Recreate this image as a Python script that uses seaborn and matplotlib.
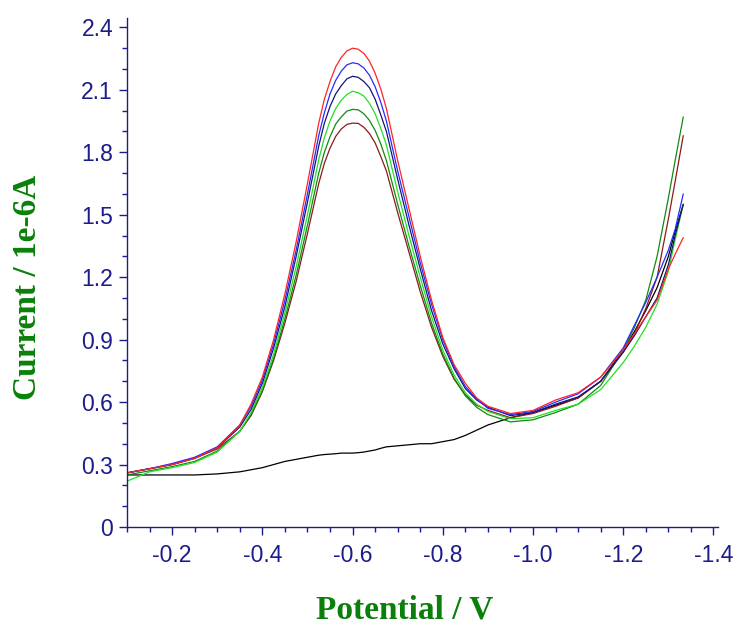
import numpy as np
import pandas as pd
import seaborn as sns
import matplotlib.pyplot as plt
from matplotlib.ticker import MultipleLocator

# potenziale (V) - griglia comune a tutte le curve
potential = [-0.10, -0.15, -0.20, -0.25, -0.30, -0.35, -0.375, -0.40, -0.425, -0.45, -0.475, -0.50,
             -0.525, -0.5375, -0.55, -0.5625, -0.575, -0.5875, -0.60, -0.6125, -0.625,
             -0.6375, -0.65, -0.6625, -0.675,
             -0.70, -0.725, -0.75, -0.775, -0.80,
             -0.825, -0.85, -0.875, -0.90, -0.95, -1.00, -1.05, -1.10, -1.15, -1.20,
             -1.225, -1.25, -1.275, -1.30, -1.315, -1.333]

# correnti (1e-6 A)
red = [0.26, 0.28, 0.30, 0.33, 0.38, 0.49, 0.59, 0.72, 0.90, 1.12, 1.37, 1.65,
       1.94, 2.055, 2.14, 2.21, 2.256, 2.287, 2.30, 2.295, 2.275, 2.238, 2.18, 2.104, 2.01,
       1.76, 1.53, 1.30, 1.09, 0.91,
       0.78, 0.69, 0.62, 0.58, 0.545, 0.56, 0.61, 0.645, 0.72, 0.85,
       0.93, 1.01, 1.09, 1.24, 1.31, 1.39]
blue = [0.26, 0.28, 0.305, 0.335, 0.385, 0.49, 0.58, 0.705, 0.88, 1.09, 1.33, 1.60,
        1.88, 1.99, 2.08, 2.145, 2.19, 2.22, 2.23, 2.225, 2.205, 2.17, 2.115, 2.04, 1.95,
        1.71, 1.49, 1.27, 1.07, 0.90,
        0.77, 0.675, 0.615, 0.57, 0.54, 0.555, 0.60, 0.64, 0.72, 0.86,
        0.97, 1.08, 1.20, 1.33, 1.43, 1.60]
navy = [0.26, 0.28, 0.30, 0.33, 0.38, 0.48, 0.565, 0.69, 0.86, 1.06, 1.30, 1.56,
        1.83, 1.94, 2.02, 2.08, 2.12, 2.153, 2.165, 2.16, 2.14, 2.11, 2.055, 1.98, 1.90,
        1.67, 1.45, 1.24, 1.04, 0.88,
        0.76, 0.665, 0.61, 0.575, 0.535, 0.55, 0.59, 0.625, 0.70, 0.84,
        0.92, 1.01, 1.10, 1.26, 1.40, 1.55]
green = [0.22, 0.265, 0.285, 0.31, 0.36, 0.46, 0.55, 0.67, 0.83, 1.03, 1.25, 1.50,
         1.765, 1.87, 1.95, 2.01, 2.05, 2.078, 2.093, 2.086, 2.07, 2.035, 1.985, 1.915, 1.835,
         1.61, 1.40, 1.20, 1.01, 0.85,
         0.73, 0.645, 0.59, 0.555, 0.52, 0.525, 0.56, 0.59, 0.66, 0.79,
         0.87, 0.96, 1.07, 1.23, 1.38, 1.55]
darkgreen = [0.25, 0.27, 0.29, 0.315, 0.365, 0.46, 0.54, 0.655, 0.81, 1.00, 1.21, 1.45,
             1.70, 1.80, 1.875, 1.935, 1.97, 1.998, 2.006, 2.004, 1.985, 1.953, 1.905, 1.84, 1.76,
             1.55, 1.35, 1.16, 0.98, 0.83,
             0.715, 0.63, 0.575, 0.54, 0.505, 0.515, 0.55, 0.59, 0.68, 0.85,
             0.96, 1.09, 1.30, 1.58, 1.76, 1.97]
darkred = [0.26, 0.28, 0.30, 0.33, 0.375, 0.46, 0.535, 0.65, 0.80, 0.98, 1.18, 1.41,
           1.65, 1.747, 1.82, 1.876, 1.912, 1.934, 1.94, 1.939, 1.92, 1.89, 1.845, 1.78, 1.71,
           1.51, 1.32, 1.13, 0.96, 0.82,
           0.71, 0.635, 0.585, 0.56, 0.525, 0.545, 0.58, 0.62, 0.70, 0.84,
           0.93, 1.05, 1.20, 1.48, 1.66, 1.88]
blank = [0.25, 0.25, 0.25, 0.25, 0.255, 0.265, 0.275, 0.285, 0.30, 0.315, 0.325, 0.335,
         0.345, 0.348, 0.35, 0.352, 0.355, 0.355, 0.355, 0.357, 0.36, 0.365, 0.37, 0.378, 0.385,
         0.39, 0.395, 0.40, 0.40, 0.41,
         0.42, 0.44, 0.465, 0.49, 0.525, 0.55, 0.585, 0.62, 0.70, 0.85,
         0.94, 1.04, 1.15, 1.30, 1.42, 1.55]

series = {'blank': blank, 'darkred': darkred, 'darkgreen': darkgreen,
          'green': green, 'navy': navy, 'blue': blue, 'red': red}
colors = {'blank': '#000000', 'darkred': '#8b1a1a', 'darkgreen': '#108a10',
          'green': '#22e022', 'navy': '#14147a', 'blue': '#2a2aff', 'red': '#ff2424'}

xticks = [-0.2, -0.4, -0.6, -0.8, -1.0, -1.2, -1.4]
xticklabels = ['-0.2', '-0.4', '-0.6', '-0.8', '-1.0', '-1.2', '-1.4']
yticks = [0, 0.3, 0.6, 0.9, 1.2, 1.5, 1.8, 2.1, 2.4]
yticklabels = ['0', '0.3', '0.6', '0.9', '1.2', '1.5', '1.8', '2.1', '2.4']

# dataframe lungo per seaborn
df = pd.concat([pd.DataFrame({'E': potential, 'I': v, 'scan': k}) for k, v in series.items()],
               ignore_index=True)

sns.set_style('ticks')
plt.rcParams['font.family'] = ['Liberation Sans', 'DejaVu Sans']
plt.rcParams['axes.unicode_minus'] = False

navy_ax = '#1c1c8a'
fig = plt.figure(figsize=(7.36, 6.28), dpi=100)
ax = fig.add_axes([127 / 736, 1 - 527 / 628, (718 - 127) / 736, (527 - 18) / 628])

sns.lineplot(data=df, x='E', y='I', hue='scan', palette=colors, estimator=None,
             sort=False, legend=False, linewidth=0.9, ax=ax)

ax.set_xlim(-0.1, -1.41)
ax.set_ylim(0, 2.445)
ax.set_xticks(xticks)
ax.set_xticklabels(xticklabels)
ax.set_yticks(yticks)
ax.set_yticklabels(yticklabels)
ax.xaxis.set_minor_locator(MultipleLocator(0.05))
ax.yaxis.set_minor_locator(MultipleLocator(0.1))
ax.tick_params(which='major', direction='out', length=6, width=1, color=navy_ax,
               labelcolor=navy_ax, labelsize=16.5)
ax.tick_params(which='minor', direction='out', length=3.5, width=1, color=navy_ax)
ax.tick_params(axis='x', pad=6)
ax.tick_params(axis='y', pad=4)
for s in ['top', 'right']:
    ax.spines[s].set_visible(False)
for s in ['left', 'bottom']:
    ax.spines[s].set_color(navy_ax)
    ax.spines[s].set_linewidth(1)
ax.set_xlabel('')
ax.set_ylabel('')

# etichette assi (verde, grassetto, serif)
lab = dict(color='#0a800a', fontsize=24, fontweight='bold', family=['Liberation Serif', 'DejaVu Serif'])
fig.text(28 / 736, 1 - 287 / 628, 'Current / 1e-6A', rotation=90, ha='center', va='center', **lab)
fig.text(405 / 736, 1 - 610 / 628, 'Potential / V', ha='center', va='center', **lab)

fig.savefig('out.png', dpi=100)
